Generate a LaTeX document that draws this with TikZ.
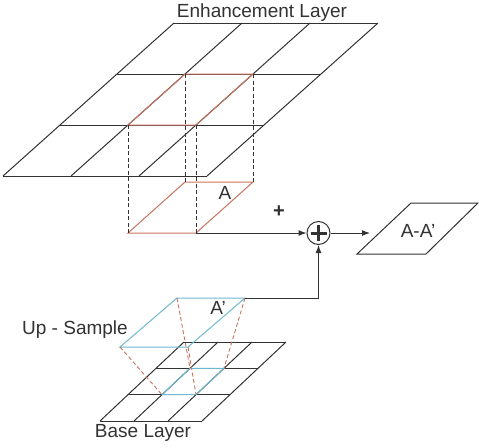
\documentclass[tikz,border=0pt]{standalone}
\usepackage{fontspec}
\setmainfont{Liberation Sans}
\usetikzlibrary{arrows.meta}
\definecolor{linegray}{RGB}{50,50,50}
\definecolor{cellred}{RGB}{200,115,95}
\definecolor{cellblue}{RGB}{110,185,210}
\tikzset{
  gridline/.style={draw=linegray, line width=1pt},
  redcell/.style={draw=cellred, line width=1pt},
  bluecell/.style={draw=cellblue, line width=1pt},
  drop/.style={draw=linegray, line width=0.9pt, dash pattern=on 4pt off 2.5pt},
  reddrop/.style={draw=cellred, line width=0.9pt, dash pattern=on 4pt off 2.5pt},
  arrow/.style={draw=linegray, line width=1pt, -{Latex[length=8pt,width=6pt]}},
  lbl/.style={text=linegray, inner sep=0pt, font=\fontsize{19}{19}\selectfont},
  sum/.style={circle, draw=linegray, line width=1pt, minimum size=23pt, inner sep=0pt,
    path picture={\draw[linegray, line width=3pt]
      ([xshift=-8pt]path picture bounding box.center) -- ([xshift=8pt]path picture bounding box.center)
      ([yshift=-8pt]path picture bounding box.center) -- ([yshift=8pt]path picture bounding box.center);}}
}
\begin{document}
\begin{tikzpicture}[x=1pt,y=-1pt]
\useasboundingbox (0,0) rectangle (479,447);

% enhancement layer
\foreach \i in {0,...,3}{
  \draw[gridline] (3+57*\i,176-51*\i) -- (207+57*\i,176-51*\i);
  \draw[gridline] (3+68*\i,176) -- (174+68*\i,23);
}
\draw[redcell] (128,125) -- (196,125) -- (253,74) -- (185,74) -- cycle;
\node[lbl, anchor=base] (enh) at (262,17) {Enhancement Layer};

% block A
\draw[redcell] (128,233) -- (196,233) -- (253,182) -- (185,182) -- cycle;
\draw[drop] (128,125) -- (128,233);
\draw[drop] (196,125) -- (196,233);
\draw[drop] (185,74) -- (185,182);
\draw[drop] (253,74) -- (253,182);
\node[lbl, anchor=base] (la) at (225,199) {A};
\coordinate (abr) at (196,233);

% sum and difference
\node[sum] (sum) at (318.5,233) {};
\node[lbl, font=\fontsize{20}{20}\selectfont\bfseries] (plus) at (279,212) {+};
\draw[arrow] (abr) -- (sum);
\coordinate (diffin) at (370,233);
\draw[arrow] (sum) -- (diffin);
\draw[gridline] (357,254) -- (426,254) -- (478,203) -- (411,203) -- cycle;
\node[lbl, anchor=base] (ldiff) at (418,237) {A-A'};

% base layer
\foreach \i in {0,...,3}{
  \draw[gridline] (100+28*\i,421-26.3*\i) -- (202+28*\i,421-26.3*\i);
  \draw[gridline] (100+34*\i,421) -- (184+34*\i,342);
}
\draw[bluecell] (162,394.7) -- (196,394.7) -- (224,368.3) -- (190,368.3) -- cycle;
\node[lbl, anchor=base] (base) at (143,437) {Base Layer};

% up-sampled block A'
\draw[bluecell] (120,347) -- (188,347) -- (245,298) -- (177,298) -- cycle;
\draw[reddrop] (177,298) -- (190,368.3);
\draw[reddrop] (245,298) -- (224,368.3);
\draw[reddrop] (120,347) -- (162,394.7);
\draw[reddrop] (188,347) -- (196,394.7);
\node[lbl, anchor=base] (lap) at (218,314) {A'};
\node[lbl, anchor=base] (up) at (75,334) {Up - Sample};
\coordinate (atr) at (245,298);
\draw[arrow] (atr) -| (sum);

\end{tikzpicture}
\end{document}
